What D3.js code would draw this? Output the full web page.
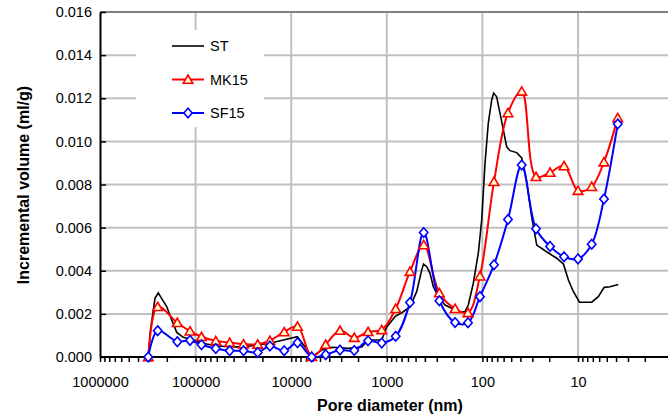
<!DOCTYPE html>
<html>
<head>
<meta charset="utf-8">
<script src="https://cdn.jsdelivr.net/npm/d3@7"></script>
<style>
  body { margin: 0; background: #fff; }
  svg { display: block; }
  text { font-family: "Liberation Sans", Arial, sans-serif; fill: #000; }
</style>
</head>
<body>
<svg id="chart" width="668" height="419"></svg>
<script>
// Pore diameters (nm) of the intrusion steps shared by the MK15 and SF15 curves
const poreDiameters = [312600, 249100, 155400, 114400, 86800, 61500, 44000, 31500, 22400, 16700,
  11840, 8590, 6100, 4360, 3090, 2190, 1570, 1130, 807, 572,
  411, 282, 193, 141.5, 106, 75.6, 54.0, 38.8, 27.5, 19.6,
  14.0, 10.0, 7.19, 5.35, 3.84];

// Incremental volume (ml/g)
const mk15Values = [0, 0.00233, 0.00159, 0.00120, 0.00094, 0.00075, 0.00067, 0.00060, 0.00059, 0.00076,
  0.00116, 0.00142, 0.00002, 0.00058, 0.00123, 0.00090, 0.00117, 0.00126, 0.00224, 0.00396,
  0.00520, 0.00297, 0.00224, 0.00205, 0.00375, 0.00813, 0.01132, 0.01232, 0.00836, 0.00856,
  0.00886, 0.00772, 0.00790, 0.00904, 0.01109];

const sf15Values = [0, 0.00122, 0.00071, 0.00077, 0.00057, 0.00039, 0.00029, 0.00029, 0.00021, 0.00051,
  0.00029, 0.00066, 0, 0.00011, 0.00032, 0.00030, 0.00075, 0.00065, 0.00096, 0.00253,
  0.00577, 0.00261, 0.00160, 0.00159, 0.00280, 0.00428, 0.00638, 0.00890, 0.00595, 0.00513,
  0.00465, 0.00455, 0.00523, 0.00733, 0.01081];

// The ST curve is recorded on a finer diameter grid
const stDiameters = [312600, 296300, 265900, 245600, 226200, 200600, 177800, 157600, 134500, 105700,
  76550, 60150, 43670, 31700, 22960, 16670, 12090, 8635, 7171, 6105,
  4797, 3771, 2527, 1830, 1561, 1131, 1002, 821, 672, 572,
  487, 431, 413, 382, 353, 326, 289, 246, 209, 171.5,
  152, 140.4, 124.5, 110.4, 101.7, 93.9, 86.8, 79.9, 76.2, 70.9,
  65.4, 60.4, 55.7, 51.4, 43.8, 38.8, 34.4, 30.5, 27.0, 21.3,
  16.7, 14.2, 12.6, 11.2, 9.64, 7.19, 6.13, 5.32, 4.63, 3.79];

const stValues = [0, 0.00125, 0.00272, 0.00298, 0.00271, 0.00234, 0.00172, 0.00114, 0.00091, 0.00079,
  0.00060, 0.00051, 0.00048, 0.00046, 0.00056, 0.00064, 0.00079, 0.00094, 0.00048, 0,
  0.00032, 0.00045, 0.00040, 0.00046, 0.00079, 0.00079, 0.00139, 0.00187, 0.00210, 0.00233,
  0.00303, 0.00404, 0.00431, 0.00419, 0.00388, 0.00326, 0.00280, 0.00241, 0.00226, 0.00210,
  0.00210, 0.00241, 0.00342, 0.00481, 0.00635, 0.00898, 0.01084, 0.01192, 0.01224, 0.01207,
  0.01130, 0.01053, 0.00975, 0.00957, 0.00948, 0.00923, 0.00812, 0.00649, 0.00519, 0.00488,
  0.00458, 0.00431, 0.00357, 0.00304, 0.00254, 0.00254, 0.00280, 0.00323, 0.00326, 0.00336];

const seriesNames = ["ST", "MK15", "SF15"];
const yTickValues = [0, 0.002, 0.004, 0.006, 0.008, 0.010, 0.012, 0.014, 0.016];
const xDecadeTicks = [1000000, 100000, 10000, 1000, 100, 10];
const xTitle = "Pore diameter (nm)";
const yTitle = "Incremental volume (ml/g)";

const svg = d3.select("#chart");
const plotLeft = 100, plotTop = 12, plotBottom = 357, plotRight = 668;

const x = d3.scaleLog().domain([1000000, 1]).range([plotLeft, 673.6]);
const y = d3.scaleLinear().domain([0, 0.016]).range([plotBottom, plotTop]);

svg.append("defs").append("clipPath").attr("id", "plotClip")
  .append("rect").attr("x", plotLeft).attr("y", plotTop)
  .attr("width", plotRight - plotLeft).attr("height", plotBottom - plotTop);

// Gridlines
const grid = svg.append("g");
grid.selectAll("line.h").data(yTickValues.filter(v => v > 0 && v < 0.016)).join("line")
  .attr("class", "h")
  .attr("x1", plotLeft).attr("x2", plotRight)
  .attr("y1", d => y(d)).attr("y2", d => y(d))
  .attr("stroke", "#c0c0c0").attr("stroke-width", 2);
grid.selectAll("line.v").data(xDecadeTicks.filter(v => v < 1000000)).join("line")
  .attr("class", "v")
  .attr("x1", d => x(d)).attr("x2", d => x(d))
  .attr("y1", plotTop).attr("y2", plotBottom)
  .attr("stroke", "#c0c0c0").attr("stroke-width", 2);
// Plot-area top border
svg.append("line").attr("x1", plotLeft).attr("x2", plotRight)
  .attr("y1", y(0.016)).attr("y2", y(0.016))
  .attr("stroke", "#808080").attr("stroke-width", 2);

// Y axis
const yAxis = d3.axisLeft(y).tickValues(yTickValues).tickFormat(d3.format(".3f"))
  .tickSizeInner(-6).tickSizeOuter(0).tickPadding(8);
const gy = svg.append("g").attr("transform", `translate(${plotLeft},0)`).call(yAxis);
gy.select(".domain").attr("stroke", "#000").attr("stroke-width", 2);
gy.selectAll(".tick line").attr("stroke", "#000").attr("stroke-width", 1.5);
gy.selectAll(".tick text").style("font-size", "14.5px").attr("fill", "#000");

// X axis: log minor ticks, labels on decades only
const xMinor = [];
for (let k = 0; k <= 5; k++) for (let m = 1; m <= 9; m++) xMinor.push(m * Math.pow(10, k));
xMinor.push(1000000);
const xAxis = d3.axisBottom(x).tickValues(xMinor)
  .tickFormat(d => xDecadeTicks.includes(d) ? String(d) : "")
  .tickSizeInner(5).tickSizeOuter(0).tickPadding(15);
const gx = svg.append("g").attr("transform", `translate(0,${plotBottom})`).call(xAxis);
gx.select(".domain").attr("d", `M${plotLeft},0H${plotRight}`).attr("stroke", "#000").attr("stroke-width", 2);
gx.selectAll(".tick line").attr("stroke", "#000").attr("stroke-width", 1.5);
gx.selectAll(".tick text").style("font-size", "14.5px").attr("fill", "#000");

// Axis titles
svg.append("text").attr("x", 390).attr("y", 411).attr("text-anchor", "middle")
  .style("font-size", "16px").style("font-weight", "bold").text(xTitle);
svg.append("text").attr("transform", "translate(29,185) rotate(-90)").attr("text-anchor", "middle")
  .style("font-size", "16px").style("font-weight", "bold").text(yTitle);

// Series
const smooth = d3.line().x(d => x(d[0])).y(d => y(d[1])).curve(d3.curveCatmullRom.alpha(0.5));
const straight = d3.line().x(d => x(d[0])).y(d => y(d[1]));

const stPts = d3.zip(stDiameters, stValues);
const mkPts = d3.zip(poreDiameters, mk15Values);
const sfPts = d3.zip(poreDiameters, sf15Values);

const lines = svg.append("g").attr("clip-path", "url(#plotClip)");
lines.append("path").attr("d", straight(stPts)).attr("fill", "none").attr("stroke", "#000").attr("stroke-width", 1.6);
lines.append("path").attr("d", smooth(mkPts)).attr("fill", "none").attr("stroke", "#ff0000").attr("stroke-width", 2);
lines.append("path").attr("d", smooth(sfPts)).attr("fill", "none").attr("stroke", "#0000ff").attr("stroke-width", 2);

const triPath = "M0,-4.5L4.8,3.8L-4.8,3.8Z";
const diaPath = "M0,-4.8L4.2,0L0,4.8L-4.2,0Z";

svg.append("g").selectAll("path").data(mkPts).join("path")
  .attr("transform", d => `translate(${x(d[0])},${y(d[1])})`)
  .attr("d", triPath).attr("fill", "#ffffcc").attr("stroke", "#ff0000").attr("stroke-width", 1.6);
svg.append("g").selectAll("path").data(sfPts).join("path")
  .attr("transform", d => `translate(${x(d[0])},${y(d[1])})`)
  .attr("d", diaPath).attr("fill", "#ffffff").attr("stroke", "#0000ff").attr("stroke-width", 1.6);

// Legend
const legend = svg.append("g");
legend.append("rect").attr("x", 136).attr("y", 30).attr("width", 128).attr("height", 97).attr("fill", "#fff");
const legendRows = [
  { name: seriesNames[0], color: "#000", marker: null, ly: 46 },
  { name: seriesNames[1], color: "#ff0000", marker: triPath, fill: "#ffffcc", ly: 79.5 },
  { name: seriesNames[2], color: "#0000ff", marker: diaPath, fill: "#fff", ly: 113 }
];
legendRows.forEach(r => {
  legend.append("line").attr("x1", 172).attr("x2", 204).attr("y1", r.ly).attr("y2", r.ly)
    .attr("stroke", r.color).attr("stroke-width", r.marker ? 2 : 1.6);
  if (r.marker) {
    legend.append("path").attr("transform", `translate(188,${r.ly})`).attr("d", r.marker)
      .attr("fill", r.fill).attr("stroke", r.color).attr("stroke-width", 1.6);
  }
  legend.append("text").attr("x", 210).attr("y", r.ly).attr("dy", "0.36em")
    .style("font-size", "14.5px").text(r.name);
});
</script>
</body>
</html>
